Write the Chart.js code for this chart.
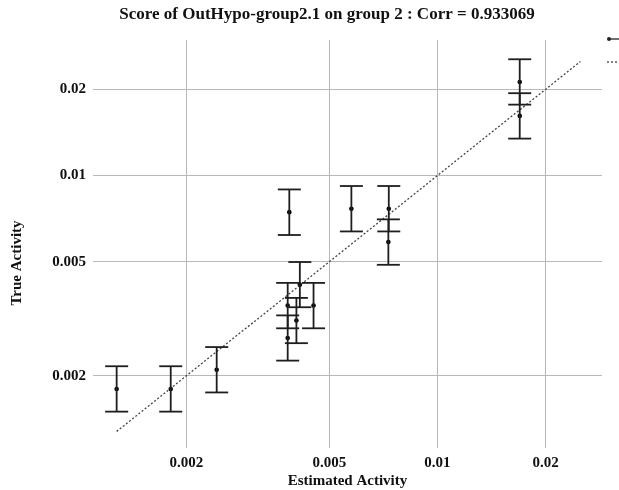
<!DOCTYPE html>
<html>
<head>
<meta charset="utf-8">
<script src="https://cdn.jsdelivr.net/npm/chart.js@4/dist/chart.umd.min.js"></script>
<style>
html, body { margin: 0; padding: 0; background: #fff; }
</style>
</head>
<body>
<canvas id="chart1" width="619" height="490"></canvas>
<script>
// values
var estimated = [0.00128, 0.00181, 0.00243, 0.00414, 0.00383, 0.00452, 0.00405, 0.00383, 0.00387, 0.00576, 0.00732, 0.0073, 0.01694, 0.01694];
var trueAct   = [0.0018, 0.0018, 0.0021, 0.00416, 0.00352, 0.00352, 0.00312, 0.00271, 0.00745, 0.00766, 0.00766, 0.00586, 0.0212, 0.01614];
var trueLow   = [0.0015, 0.0015, 0.00175, 0.00347, 0.00293, 0.00293, 0.0026, 0.00226, 0.0062, 0.00638, 0.00638, 0.00488, 0.01767, 0.01345];
var trueHigh  = [0.00216, 0.00216, 0.00252, 0.00499, 0.00422, 0.00422, 0.00374, 0.00325, 0.00894, 0.00919, 0.00919, 0.00703, 0.02544, 0.01937];
var tickValues = [0.002, 0.005, 0.01, 0.02];
var fitEnds = [0.00128, 0.025];

var titleText = 'Score of OutHypo-group2.1 on group 2 : Corr = 0.933069';
var serif = '"Liberation Serif", "DejaVu Serif", serif';
var ink = '#1e1e1e';

// error bars: one small line per point, caps drawn as 'line' point style
var datasets = [];
for (var i = 0; i < estimated.length; i++) {
    datasets.push({
        data: [{ x: estimated[i], y: trueLow[i] }, { x: estimated[i], y: trueHigh[i] }],
        showLine: true,
        borderColor: ink,
        borderWidth: 1.8,
        pointStyle: 'line',
        pointRadius: 11.5,
        pointHoverRadius: 11.5,
        pointBorderWidth: 1.8,
        pointBorderColor: ink
    });
}

// y = x reference line
datasets.push({
    data: fitEnds.map(function (v) { return { x: v, y: v }; }),
    showLine: true,
    borderColor: '#444',
    borderWidth: 1.3,
    borderDash: [2, 2],
    pointRadius: 0
});

// the points themselves
datasets.push({
    data: estimated.map(function (v, k) { return { x: v, y: trueAct[k] }; }),
    pointRadius: 2.3,
    pointBackgroundColor: '#000',
    pointBorderWidth: 0
});

function fixTicks(scale) {
    scale.ticks = tickValues.map(function (v) { return { value: v }; });
}

// title, rotated y title and the cut-off legend on the right
var decor = {
    id: 'decor',
    afterDraw: function (chart) {
        var ctx = chart.ctx;
        ctx.save();
        ctx.fillStyle = '#111';
        ctx.textAlign = 'center';
        ctx.textBaseline = 'middle';
        ctx.font = 'bold 17px ' + serif;
        ctx.fillText(titleText, 327, 15);

        ctx.translate(17, 263);
        ctx.rotate(-Math.PI / 2);
        ctx.font = 'bold 15px ' + serif;
        ctx.fillText('True Activity', 0, 0);
        ctx.restore();

        ctx.save();
        ctx.strokeStyle = '#333';
        ctx.fillStyle = '#222';
        ctx.lineWidth = 1.4;
        ctx.beginPath();
        ctx.moveTo(609, 39);
        ctx.lineTo(619, 39);
        ctx.stroke();
        ctx.beginPath();
        ctx.arc(609, 39, 2, 0, Math.PI * 2);
        ctx.fill();
        ctx.setLineDash([2, 2]);
        ctx.lineWidth = 1.2;
        ctx.beginPath();
        ctx.moveTo(607, 62);
        ctx.lineTo(619, 62);
        ctx.stroke();
        ctx.restore();
    }
};

var ctx = document.getElementById('chart1');
var myChart = new Chart(ctx, {
    type: 'scatter',
    data: { datasets: datasets },
    plugins: [decor],
    options: {
        responsive: false,
        animation: false,
        layout: { padding: { left: 0, right: 17, top: 40, bottom: 0 } },
        plugins: {
            legend: { display: false },
            tooltip: { enabled: false }
        },
        scales: {
            x: {
                type: 'logarithmic',
                min: 0.0011,
                max: 0.0287,
                afterBuildTicks: fixTicks,
                afterFit: function (scale) { scale.height = 42; },
                border: { display: false },
                grid: { color: '#b8b8b8', lineWidth: 1, drawTicks: false },
                ticks: {
                    padding: 6,
                    color: '#111',
                    font: { family: serif, size: 15, weight: 'bold' },
                    callback: function (v) { return String(v); }
                },
                title: {
                    display: true,
                    text: 'Estimated Activity',
                    color: '#111',
                    padding: { top: 0, bottom: 0 },
                    font: { family: serif, size: 15, weight: 'bold' }
                }
            },
            y: {
                type: 'logarithmic',
                min: 0.00112,
                max: 0.0297,
                afterBuildTicks: fixTicks,
                afterFit: function (scale) { scale.width = 93; },
                border: { display: false },
                grid: { color: '#b8b8b8', lineWidth: 1, drawTicks: false },
                ticks: {
                    padding: 7,
                    color: '#111',
                    font: { family: serif, size: 15, weight: 'bold' },
                    callback: function (v) { return String(v); }
                }
            }
        }
    }
});
</script>
</body>
</html>
